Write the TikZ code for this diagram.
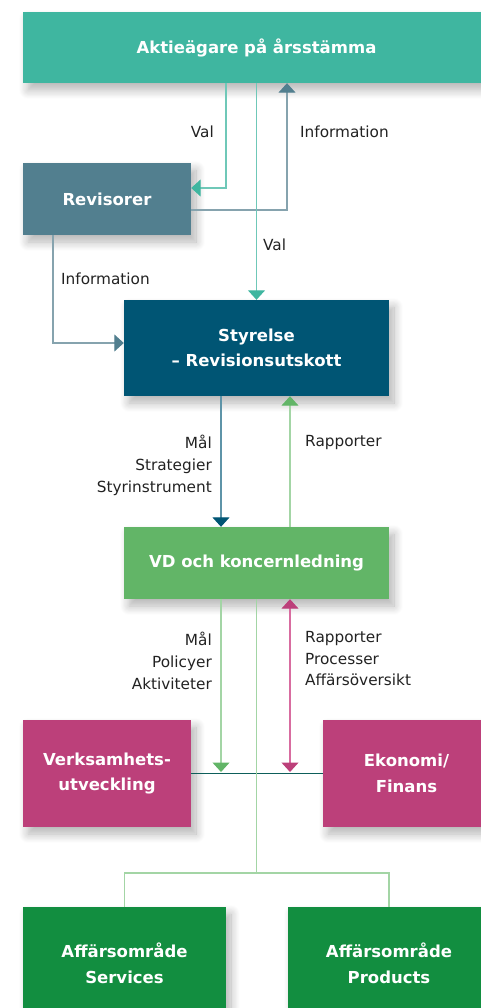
\documentclass[tikz,border=0pt]{standalone}
\usepackage{fontspec}
\setmainfont{DejaVu Sans}
\usetikzlibrary{arrows.meta,shadows.blur}
\definecolor{cteal}{HTML}{3FB6A0}
\definecolor{ctealL}{HTML}{6FC8B8}
\definecolor{cslate}{HTML}{527F8F}
\definecolor{cslateL}{HTML}{86A3AE}
\definecolor{cnavy}{HTML}{005574}
\definecolor{cnavyL}{HTML}{5E94A8}
\definecolor{cgreen}{HTML}{62B567}
\definecolor{cgreenL}{HTML}{A3D5A5}
\definecolor{cpink}{HTML}{BC407A}
\definecolor{cpinkL}{HTML}{D86CA0}
\definecolor{cdark}{HTML}{128E40}
\definecolor{chline}{HTML}{0D5E5A}
\definecolor{ctext}{HTML}{222222}
\tikzset{
  box/.style={inner sep=0pt, draw=none, text=white, align=center,
    font=\bfseries\fontsize{16.5}{25.5}\selectfont,
    blur shadow={shadow xshift=5pt, shadow yshift=-7pt, shadow blur radius=9pt, shadow blur steps=12, shadow opacity=30}},
  lbl/.style={inner sep=0pt, text=ctext, font=\fontsize{15.3}{22}\selectfont},
  tipc/.style={-{Triangle[width=17pt,length=9.5pt,color=#1]}},
  bothc/.style={{Triangle[width=17pt,length=9.5pt,color=#1]}-{Triangle[width=17pt,length=9.5pt,color=#1]}},
  conn/.style={line width=1.2pt}
}
\begin{document}
\begin{tikzpicture}[x=1pt,y=-1pt]
\useasboundingbox (0,0) rectangle (480,1008);
% boxes
\node[box, fill=cteal, minimum width=467pt, minimum height=71pt] (top) at (256.5,47.5) {Aktieägare på årsstämma};
\node[box, fill=cslate, minimum width=168pt, minimum height=72pt] (rev) at (107,199) {Revisorer};
\node[box, fill=cnavy, minimum width=265pt, minimum height=96pt] (sty) at (256.5,348) {Styrelse\\– Revisionsutskott};
\node[box, fill=cgreen, minimum width=265pt, minimum height=72pt] (vd) at (256.5,563) {VD och koncernledning};
\node[box, fill=cpink, minimum width=168pt, minimum height=107pt] (verk) at (107,773.5) {Verksamhets-\\utveckling};
\node[box, fill=cpink, minimum width=167pt, minimum height=107pt] (eko) at (406.5,773.5) {Ekonomi/\\Finans};
\node[box, fill=cdark, minimum width=203pt, minimum height=113pt] (serv) at (124.5,963.5) {Affärsområde\\Services};
\node[box, fill=cdark, minimum width=202pt, minimum height=113pt] (prod) at (389,963.5) {Affärsområde\\Products};
% column coordinates
\coordinate (xa) at (226,0);
\coordinate (xc) at (287,0);
\coordinate (xi) at (53,0);
\coordinate (xm) at (221,0);
\coordinate (xr) at (290,0);
\coordinate (hy) at (0,772);
\coordinate (jy) at (0,873);
% connectors
\draw[conn, ctealL, tipc=cteal] (top.south -| xa) |- ([yshift=11pt]rev.east);
\draw[conn, cslateL, tipc=cslate] ([yshift=-11pt]rev.east) -| (top.south -| xc);
\draw[conn, ctealL, tipc=cteal] (top.south) -- (sty.north);
\draw[conn, cslateL, tipc=cslate] (rev.south -| xi) |- ([yshift=5pt]sty.west);
\draw[conn, cnavyL, tipc=cnavy] (sty.south -| xm) -- (vd.north -| xm);
\draw[conn, cgreenL, tipc=cgreen] (vd.north -| xr) -- (sty.south -| xr);
\draw[conn, chline] (verk.east) -- (eko.west);
\draw[conn, cgreenL, tipc=cgreen] (vd.south -| xm) -- (hy -| xm);
\draw[conn, cpinkL, bothc=cpink] (hy -| xr) -- (vd.south -| xr);
\draw[conn, cgreenL] (vd.south) -- (vd.south |- jy);
\draw[conn, cgreenL] (serv.north) |- (vd.south |- jy) -| (prod.north);
% labels
\node[lbl, anchor=east] (l1) at (214,132) {Val};
\node[lbl, anchor=west] (l2) at (300,132) {Information};
\node[lbl, anchor=west] (l3) at (263,245) {Val};
\node[lbl, anchor=west] (l4) at (61,279) {Information};
\node[lbl, anchor=east, align=right] (l5) at (212,465) {Mål\\Strategier\\Styrinstrument};
\node[lbl, anchor=west] (l6) at (305,443) {Rapporter};
\node[lbl, anchor=east, align=right] (l7) at (212,661) {Mål\\Policyer\\Aktiviteter};
\node[lbl, anchor=west, align=left, font=\fontsize{15.3}{21.5}\selectfont] (l8) at (305,659) {Rapporter\\Processer\\Affärsöversikt};
\end{tikzpicture}
\end{document}
